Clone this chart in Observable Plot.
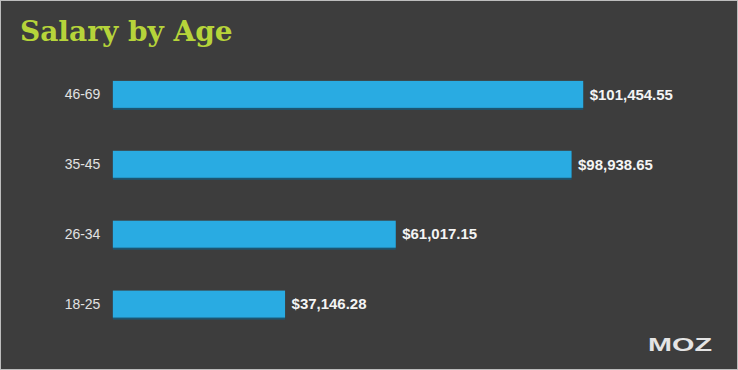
<!DOCTYPE html>
<html>
<head>
<meta charset="utf-8">
<script src="https://cdn.jsdelivr.net/npm/d3@7"></script>
<script src="https://cdn.jsdelivr.net/npm/@observablehq/plot@0.6"></script>
<style>
  html, body { margin: 0; padding: 0; background: #3d3d3d; }
  #wrap { position: relative; width: 738px; height: 370px; background: #3d3d3d; overflow: hidden; box-sizing: border-box; border: 1px solid #bdbdbd; }
  #title { position: absolute; left: 19px; top: 14px; margin: 0; font-family: "DejaVu Serif", serif; font-weight: bold; font-size: 28px; color: #b6d43a; }
  #logo { position: absolute; left: 647px; top: 335px; line-height: 18px; font-family: "Liberation Sans", Arial, sans-serif; font-weight: bold; font-size: 18px; color: #e4e4e4; letter-spacing: 0px; transform: scaleX(1.6); transform-origin: left; }
  #chart { position: absolute; left: -1px; top: -1px; }
</style>
</head>
<body>
<div id="wrap">
  <div id="chart"></div>
  <h1 id="title">Salary by Age</h1>
  <div id="logo">MOZ</div>
</div>
<script>
const ageGroups = ["46-69", "35-45", "26-34", "18-25"];
const salaries = [101454.55, 98938.65, 61017.15, 37146.28];

const data = ageGroups.map((a, i) => ({age: a, salary: salaries[i]}));
const fmt = d3.format("$,.2f");

const chart = Plot.plot({
  width: 738,
  height: 370,
  marginLeft: 113,
  marginRight: 154,
  marginTop: 0,
  marginBottom: 0,
  style: {background: "transparent", fontFamily: "Liberation Sans, Arial, sans-serif"},
  x: {domain: [0, d3.max(salaries)], axis: null},
  y: {domain: ageGroups, range: [45, 353.5], paddingInner: 0.614, paddingOuter: 0.5, label: null},
  marks: [
    Plot.axisY({tickSize: 0, tickPadding: 13, fontSize: 14, color: "#e2e2e2", label: null}),
    Plot.barX(data, {x: "salary", y: "age", fill: "#1c5671", dy: 2}),
    Plot.barX(data, {x: "salary", y: "age", fill: "#29abe2"}),
    Plot.text(data, {x: "salary", y: "age", text: d => fmt(d.salary), textAnchor: "start", dx: 6, fill: "#f4f4f4", fontSize: 15, fontWeight: "bold"})
  ]
});
document.getElementById("chart").appendChild(chart);
</script>
</body>
</html>
